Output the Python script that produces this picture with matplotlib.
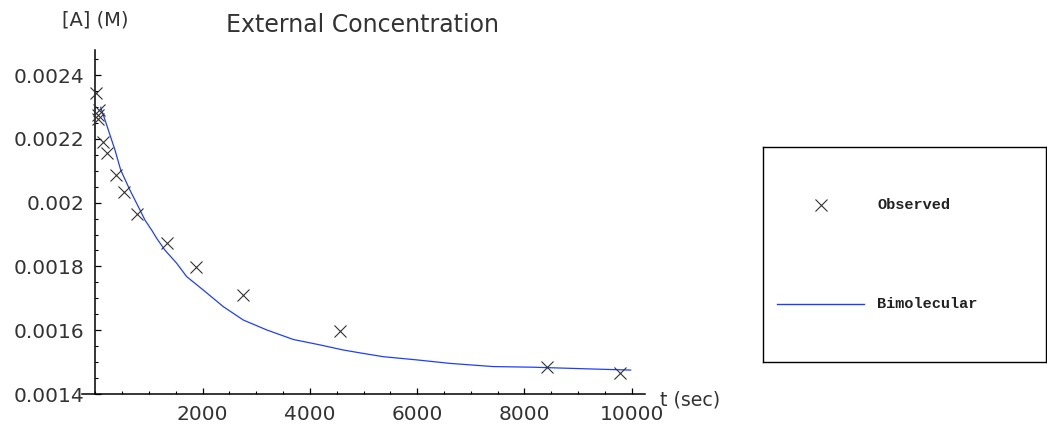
import numpy as np
import matplotlib.pyplot as plt
from matplotlib.ticker import MultipleLocator, FuncFormatter

# observed external concentration (t in sec, [A] in M)
obs_t = [20, 40, 45, 60, 150, 210, 385, 535, 780, 1330, 1875, 2757, 4559, 8430, 9778]
obs_a = [0.002343, 0.002275, 0.002262, 0.00229, 0.002191, 0.002155, 0.002087,
         0.002034, 0.001963, 0.001872, 0.001797, 0.00171, 0.001598, 0.001486, 0.001465]

# bimolecular fit
fit_t = [99, 179, 365, 472, 645, 831, 925, 1049, 1143, 1297, 1515, 1702, 2011,
         2384, 2757, 3193, 3689, 4186, 4621, 4932, 5366, 5989, 6610, 7416,
         8162, 9344, 9983]
fit_a = [0.002299, 0.002259, 0.002165, 0.002102, 0.002039, 0.001977, 0.001945,
         0.001914, 0.001888, 0.001851, 0.00181, 0.001768, 0.001726, 0.001674,
         0.001632, 0.001601, 0.001571, 0.001554, 0.001538, 0.001529, 0.001517,
         0.001507, 0.001496, 0.001486, 0.001484, 0.001478, 0.001475]

W, H = 1047, 429
fig = plt.figure(figsize=(W / 100, H / 100), dpi=100)
txt = '#333333'

ax = fig.add_axes([82 / W, (H - 394) / H, 563 / W, 344.5 / H])
ax.plot(fit_t, fit_a, color='#1f3fff', linewidth=0.9, zorder=2)
ax.plot(obs_t, obs_a, linestyle='none', marker='x', markersize=8.5,
        markeredgewidth=0.8, color='#333333', zorder=3)

ax.set_xlim(-250, 10250)
ax.set_ylim(0.0014, 0.00248)

ax.spines['top'].set_visible(False)
ax.spines['right'].set_visible(False)
ax.spines['left'].set_position(('data', 0))
for s in ('left', 'bottom'):
    ax.spines[s].set_linewidth(1.1)
    ax.spines[s].set_color('black')

ax.set_xticks([2000, 4000, 6000, 8000, 10000])
ax.xaxis.set_minor_locator(MultipleLocator(500))
ax.set_yticks(np.arange(0.0014, 0.00241, 0.0002))
ax.yaxis.set_minor_locator(MultipleLocator(0.00005))
ax.yaxis.set_major_formatter(FuncFormatter(lambda v, p: '%g' % round(v, 6)))
ax.tick_params(which='major', direction='in', length=4, width=0.9,
               labelsize=14.5, labelcolor=txt, pad=8)
ax.tick_params(which='minor', direction='in', length=2.5, width=0.8)

fig.text(95 / W, 1 - 20 / H, '[A] (M)', fontsize=14, color=txt,
         ha='center', va='center')
fig.text(660 / W, 1 - 400 / H, 't (sec)', fontsize=13.7, color=txt,
         ha='left', va='center')
fig.text(363 / W, 1 - 25 / H, 'External Concentration', fontsize=17,
         color=txt, ha='center', va='center')

# legend box
lax = fig.add_axes([763 / W, (H - 362) / H, 283 / W, 215 / H])
lax.set_xlim(0, 283)
lax.set_ylim(215, 0)
lax.set_xticks([])
lax.set_yticks([])
for s in lax.spines.values():
    s.set_linewidth(1.0)
    s.set_color('black')
lax.plot([58], [58], linestyle='none', marker='x', markersize=8,
         markeredgewidth=0.8, color='#333333')
lax.plot([14, 101], [157, 157], color='#1f3fff', linewidth=1.0)
lax.text(114, 58, 'Observed', fontsize=11, family='Liberation Mono',
         fontweight='bold', color='#222222', va='center')
lax.text(114, 157, 'Bimolecular', fontsize=11, family='Liberation Mono',
         fontweight='bold', color='#222222', va='center')

fig.savefig('out.png', dpi=100)
